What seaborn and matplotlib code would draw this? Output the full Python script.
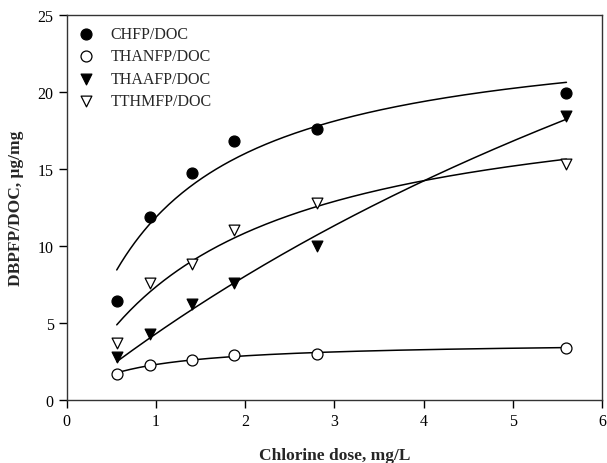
import numpy as np
import pandas as pd
import matplotlib
matplotlib.use("Agg")
import matplotlib.pyplot as plt
import seaborn as sns

# ---- data ----
dose = [0.56, 0.93, 1.40, 1.87, 2.80, 5.60]
chfp = [6.4, 11.9, 14.7, 16.8, 17.6, 19.9]
thanfp = [1.7, 2.25, 2.6, 2.9, 3.0, 3.4]
thaafp = [2.8, 4.3, 6.2, 7.6, 10.0, 18.4]
tthmfp = [3.7, 7.6, 8.8, 11.0, 12.8, 15.3]
series_names = ["CHFP/DOC", "THANFP/DOC", "THAAFP/DOC", "TTHMFP/DOC"]
xticks = [0, 1, 2, 3, 4, 5, 6]
yticks = [0, 5, 10, 15, 20, 25]

sns.set_style("ticks")
plt.rcParams["font.family"] = ["Liberation Serif", "DejaVu Serif"]
plt.rcParams["mathtext.fontset"] = "stix"

fig = plt.figure(figsize=(6.07, 4.64), dpi=100)
ax = fig.add_axes([0.110, 0.136, 0.882, 0.830])

styles = {
    "CHFP/DOC": dict(marker="o", facecolor="black"),
    "THANFP/DOC": dict(marker="o", facecolor="white"),
    "THAAFP/DOC": dict(marker="v", facecolor="black"),
    "TTHMFP/DOC": dict(marker="v", facecolor="white"),
}
values = {"CHFP/DOC": chfp, "THANFP/DOC": thanfp,
          "THAAFP/DOC": thaafp, "TTHMFP/DOC": tthmfp}


def hyperbola_fit(x, y):
    """least-squares fit of y = a*x/(b+x) (rectangular hyperbola regression)"""
    x = np.asarray(x, float)
    y = np.asarray(y, float)
    best = None
    for b in np.linspace(0.01, 60, 6000):
        g = x / (b + x)
        a = (g @ y) / (g @ g)
        r = np.sum((y - a * g) ** 2)
        if best is None or r < best[0]:
            best = (r, a, b)
    return best[1], best[2]


xs = np.linspace(min(dose), max(dose), 200)
for name in series_names:
    y = values[name]
    a, b = hyperbola_fit(dose, y)
    fit = pd.DataFrame({"x": xs, "y": a * xs / (b + xs)})
    sns.lineplot(data=fit, x="x", y="y", ax=ax, color="black", lw=1.1,
                 legend=False, zorder=2)

for name in series_names:
    st = styles[name]
    df = pd.DataFrame({"x": dose, "y": values[name]})
    sns.scatterplot(data=df, x="x", y="y", ax=ax, marker=st["marker"],
                    s=62 if st["marker"] == "o" else 60,
                    facecolor=st["facecolor"], edgecolor="black",
                    linewidth=0.9, label=name, zorder=3)

ax.set_xlim(0, 6)
ax.set_ylim(0, 25)
ax.set_xticks(xticks)
ax.set_yticks(yticks)
ax.tick_params(direction="out", length=6, width=1, labelsize=11.5,
               top=False, right=False, colors="black")
for s in ax.spines.values():
    s.set_visible(True)
    s.set_linewidth(1.0)
    s.set_color("#333333")

ax.set_xlabel("Chlorine dose, mg/L", fontsize=12.5, fontweight="bold",
              labelpad=13)
ax.set_ylabel("DBPFP/DOC, μg/mg", fontsize=12.5, fontweight="bold",
              labelpad=10)

leg = ax.legend(loc="upper left", frameon=False, fontsize=11.5,
                handlelength=1.0, handletextpad=1.05, labelspacing=0.4,
                borderaxespad=0.3, bbox_to_anchor=(0.0, 1.0))

fig.savefig("out.png", dpi=100)
